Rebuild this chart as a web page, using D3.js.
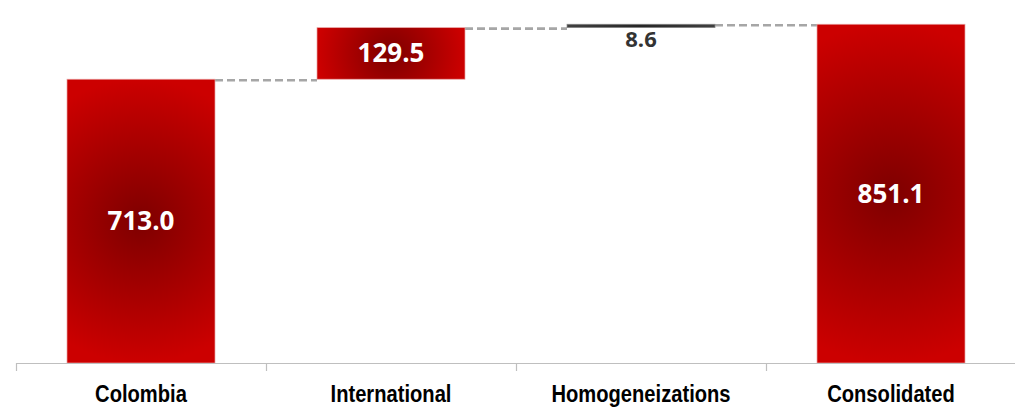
<!DOCTYPE html>
<html>
<head>
<meta charset="utf-8">
<script src="https://cdn.jsdelivr.net/npm/d3@7"></script>
<style>
  html, body { margin: 0; padding: 0; background: #ffffff; }
  svg { display: block; }
</style>
</head>
<body>
<svg id="chart" width="1015" height="409"></svg>
<script>
// Waterfall data
const categories = ["Colombia", "International", "Homogeneizations", "Consolidated"];
const values = [713.0, 129.5, 8.6, 851.1];
const barKinds = ["total", "step", "step", "total"];
const valueLabels = ["713.0", "129.5", "8.6", "851.1"];

const W = 1015, H = 409;
const svg = d3.select("#chart");
const defs = svg.append("defs");

// Horizontal band scale: one band per category, bars take the middle of each step
const x = d3.scaleBand()
  .domain(categories)
  .range([16, 1016])
  .paddingInner(0.408)
  .paddingOuter(0.204);

const baseY = 363;
const y = d3.scaleLinear().domain([0, 912]).range([baseY, 0]);

// Running totals for the floating bars
let running = 0;
const bars = categories.map((c, i) => {
  let start, end;
  if (barKinds[i] === "total") { start = 0; end = values[i]; running = values[i]; }
  else { start = running; end = running + values[i]; running = end; }
  return { cat: c, i, start, end, label: valueLabels[i] };
});

const greyCats = new Set(["Homogeneizations"]);

// One radial gradient per bar, centred on the bar, in user space
bars.forEach(b => {
  const x0 = x(b.cat), w = x.bandwidth();
  const yTop = y(Math.max(b.start, b.end)), yBot = y(Math.min(b.start, b.end));
  const h = yBot - yTop;
  const cx = x0 + w / 2, cy = (yTop + yBot) / 2;
  const r = Math.max(w, h) / 2;
  const g = defs.append("radialGradient")
    .attr("id", "grad" + b.i)
    .attr("gradientUnits", "userSpaceOnUse")
    .attr("cx", cx).attr("cy", cy).attr("r", r)
    .attr("fx", cx).attr("fy", cy);
  const stops = greyCats.has(b.cat)
    ? [["0%", "#262626"], ["100%", "#404040"]]
    : [["0%", "#7e0000"], ["100%", "#cc0000"]];
  stops.forEach(s => g.append("stop").attr("offset", s[0]).attr("stop-color", s[1]));
  Object.assign(b, { x0, w, yTop, yBot, h, cx, cy });
});

// Dashed connectors between consecutive bars at the running level
for (let k = 0; k < bars.length - 1; k++) {
  const a = bars[k], b = bars[k + 1];
  const level = a.end;
  svg.append("line")
    .attr("x1", a.x0 + a.w).attr("x2", b.x0)
    .attr("y1", y(level) + 1).attr("y2", y(level) + 1)
    .attr("stroke", "#a6a6a6")
    .attr("stroke-width", 2.6)
    .attr("stroke-dasharray", "8,4");
}

// Bars
svg.append("g").selectAll("rect")
  .data(bars)
  .join("rect")
  .attr("x", d => d.x0)
  .attr("y", d => d.yTop)
  .attr("width", d => d.w)
  .attr("height", d => d.h)
  .attr("fill", d => "url(#grad" + d.i + ")")
  .attr("stroke", d => greyCats.has(d.cat) ? "#8a8a8a" : "#e9a3a3")
  .attr("stroke-width", 0.7);

// Category axis along the baseline, ticks between categories
const step = x.step();
const axisG = svg.append("g");
axisG.append("line")
  .attr("x1", 16).attr("x2", W)
  .attr("y1", baseY + 0.5).attr("y2", baseY + 0.5)
  .attr("stroke", "#bfbfbf").attr("stroke-width", 1.2);
categories.forEach((c, i) => {
  const tx = x(c) - x.paddingInner() * step / 2;
  axisG.append("line")
    .attr("x1", tx + 0.5).attr("x2", tx + 0.5)
    .attr("y1", baseY).attr("y2", baseY + 8)
    .attr("stroke", "#bfbfbf").attr("stroke-width", 1.2);
});
// Condensed bold category names
axisG.selectAll("text.cat")
  .data(categories)
  .join("text")
  .attr("class", "cat")
  .attr("transform", d => `translate(${x(d) + x.bandwidth() / 2},402) scale(0.84,1)`)
  .attr("text-anchor", "middle")
  .attr("font-family", "'Liberation Sans', Arial, sans-serif")
  .attr("font-weight", "bold")
  .attr("font-size", 24)
  .attr("fill", "#000000")
  .text(d => d);

// Value labels: centred inside the bar, or just below it when the bar is too thin
svg.append("g").selectAll("text.val")
  .data(bars)
  .join("text")
  .attr("class", "val")
  .attr("x", d => d.cx)
  .attr("y", d => d.h >= 26 ? d.cy + 9 : d.yBot + 19)
  .attr("text-anchor", "middle")
  .attr("font-family", "'Open Sans', 'Noto Sans', sans-serif")
  .attr("font-weight", 700)
  .attr("font-size", d => d.h >= 26 ? 26 : 22)
  .attr("fill", d => d.h >= 26 ? "#ffffff" : "#333333")
  .text(d => d.label);
</script>
</body>
</html>
